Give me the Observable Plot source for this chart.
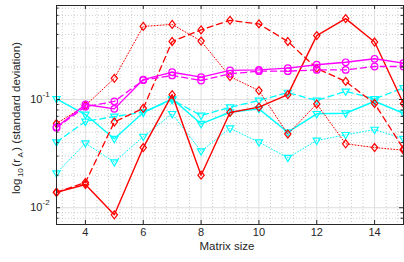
<!DOCTYPE html>
<html><head><meta charset="utf-8">
<script src="https://cdn.jsdelivr.net/npm/d3@7"></script>
<script src="https://cdn.jsdelivr.net/npm/@observablehq/plot@0.6"></script>
<style>body{margin:0;background:#fff} svg{display:block}</style>
</head><body><div id="chart"></div>
<script>
// ---- data ----
const matrixSizes = [3,4,5,6,7,8,9,10,11,12,13,14,15];
const redSolid    = [0.0139,0.0164,0.0086,0.036,0.111,0.020,0.076,0.085,0.111,0.39,0.56,0.34,0.092];
const redDashed   = [0.0139,0.0171,0.062,0.083,0.344,0.44,0.54,0.50,0.344,0.194,0.147,0.092,0.035];
const redDotted   = [0.060,0.088,0.157,0.474,0.495,0.347,0.163,0.121,0.048,0.091,0.039,0.036,0.034];
const magentaSolid  = [0.0555,0.090,0.082,0.153,0.179,0.161,0.186,0.188,0.195,0.21,0.221,0.238,0.217];
const magentaDashed = [0.055,0.086,0.096,0.151,0.167,0.150,0.173,0.183,0.183,0.188,0.188,0.202,0.202];
const cyanSolid   = [0.1015,0.0727,0.0434,0.0759,0.1015,0.0597,0.0763,0.082,0.0499,0.0738,0.0747,0.0964,0.0747];
const cyanDashed  = [0.0404,0.0627,0.0697,0.0763,0.0994,0.0712,0.0849,0.098,0.116,0.098,0.119,0.1015,0.128];
const cyanDotted  = [0.0209,0.0395,0.0264,0.0455,0.0738,0.0333,0.0543,0.0404,0.029,0.0418,0.0472,0.0528,0.0434];
const xTicks = [4,6,8,10,12,14];
const yTicks = [0.01,0.1];
const yTickExponents = ["-2","-1"];
const xLabel = "Matrix size";

// ---- styling ----
const W = 404, H = 262, mL = 56, mR = 1, mT = 5, mB = 38;
const plotW = W - mL - mR, plotH = H - mT - mB;
const ink = "#262626";
const font = "'Liberation Sans', Arial, Helvetica, sans-serif";
const dashes = {solid: null, dashed: "6,4", dotted: "1,2"};
const diamond = {draw(ctx, size) { const r = Math.sqrt(size / Math.PI); const h = r * 1.2, w = r * 0.95;
  ctx.moveTo(0, -h); ctx.lineTo(w, 0); ctx.lineTo(0, h); ctx.lineTo(-w, 0); ctx.closePath(); }};
const triDown = {draw(ctx, size) { const r = Math.sqrt(size / Math.PI);
  ctx.moveTo(-r * 1.1, -r * 0.7); ctx.lineTo(r * 1.1, -r * 0.7); ctx.lineTo(0, r * 1.2); ctx.closePath(); }};
const circle = {draw(ctx, size) { const r = Math.sqrt(size / Math.PI); ctx.moveTo(r, 0); ctx.arc(0, 0, r, 0, 2 * Math.PI); }};

const series = [
  {values: cyanDotted, color: "#00FFFF", style: "dotted", symbol: triDown, w: 1},
  {values: cyanDashed, color: "#00FFFF", style: "dashed", symbol: triDown, w: 1.3},
  {values: cyanSolid,  color: "#00FFFF", style: "solid",  symbol: triDown, w: 1.4},
  {values: redDotted,  color: "#FF0000", style: "dotted", symbol: diamond, w: 1},
  {values: redDashed,  color: "#FF0000", style: "dashed", symbol: diamond, w: 1.3},
  {values: redSolid,   color: "#FF0000", style: "solid",  symbol: diamond, w: 1.4},
  {values: magentaDashed, color: "#FF00FF", style: "dashed", symbol: circle, w: 1.3},
  {values: magentaSolid,  color: "#FF00FF", style: "solid",  symbol: circle, w: 1.4},
];

const xMinor = d3.range(3.2, 15, 0.4).filter(v => !xTicks.some(t => Math.abs(t - v) < 1e-6));
const yMinor = [];
for (const dec of [0.001, 0.01, 0.1]) for (let k = 2; k <= 9; k++) { const v = k * dec; if (v >= 0.007 && v <= 0.74) yMinor.push(v); }

const marks = [
  Plot.ruleX(xMinor, {x: d => d, stroke: "#b8b8b8", strokeWidth: 0.7, strokeDasharray: "1,2"}),
  Plot.ruleY(yMinor, {y: d => d, stroke: "#b8b8b8", strokeWidth: 0.7, strokeDasharray: "1,2"}),
  Plot.ruleX(xTicks, {x: d => d, stroke: "#dedede", strokeWidth: 1}),
  Plot.ruleY(yTicks, {y: d => d, stroke: "#dedede", strokeWidth: 1}),
];
for (const s of series) {
  const data = matrixSizes.map((x, i) => ({x, y: s.values[i]}));
  marks.push(Plot.line(data, {x: "x", y: "y", stroke: s.color, strokeWidth: s.w, strokeDasharray: dashes[s.style]}));
  marks.push(Plot.dot(data, {x: "x", y: "y", stroke: s.color, fill: "none", strokeWidth: 1.2, r: 3.3, symbol: s.symbol}));
}
marks.push(
  Plot.frame({stroke: ink, strokeWidth: 1}),
  Plot.tickX(xTicks, {x: d => d, stroke: ink, insetTop: plotH - 4}),
  Plot.tickX(xTicks, {x: d => d, stroke: ink, insetBottom: plotH - 4}),
  Plot.tickY(yTicks, {y: d => d, stroke: ink, insetRight: plotW - 4}),
  Plot.tickY(yTicks, {y: d => d, stroke: ink, insetLeft: plotW - 4}),
  Plot.tickY(yMinor, {y: d => d, stroke: ink, insetRight: plotW - 2.5}),
  Plot.tickY(yMinor, {y: d => d, stroke: ink, insetLeft: plotW - 2.5}),
  Plot.text(xTicks, {x: d => d, frameAnchor: "bottom", dy: 11.5, text: d => String(d), fill: ink, fontSize: 11}),
  Plot.text(yTicks, {y: d => d, frameAnchor: "left", dx: -14, textAnchor: "end", text: () => "10", fill: ink, fontSize: 11}),
  Plot.text(yTicks, {y: d => d, frameAnchor: "left", dx: -14, dy: -5, textAnchor: "start", text: (d, i) => yTickExponents[i], fill: ink, fontSize: 8}),
  Plot.text([xLabel], {frameAnchor: "bottom", dx: -3, dy: 25, text: d => d, fill: ink, fontSize: 11.5})
);

const chart = Plot.plot({
  width: W, height: H, marginLeft: mL, marginRight: mR, marginTop: mT, marginBottom: mB,
  x: {domain: [3, 15], axis: null},
  y: {type: "log", domain: [0.007, 0.74], axis: null},
  style: {fontFamily: font, background: "white", color: ink},
  marks
});

// y-axis title with TeX-like subscripts
const svg = d3.select(chart);
const t = svg.append("text")
  .attr("transform", "translate(20,118) rotate(-90)")
  .attr("text-anchor", "middle")
  .attr("fill", ink)
  .attr("font-family", font)
  .attr("font-size", 11.5);
t.append("tspan").text("log");
t.append("tspan").attr("dy", 3).attr("dx", 1.5).attr("font-size", 8).text("10");
t.append("tspan").attr("dy", -3).attr("dx", 1.5).text("(r");
t.append("tspan").attr("dy", 3).attr("dx", 1.5).attr("font-size", 8).text("A");
t.append("tspan").attr("dy", -3).attr("dx", 1.5).text(") (standard deviation)");

document.getElementById("chart").appendChild(chart);
</script>
</body></html>
